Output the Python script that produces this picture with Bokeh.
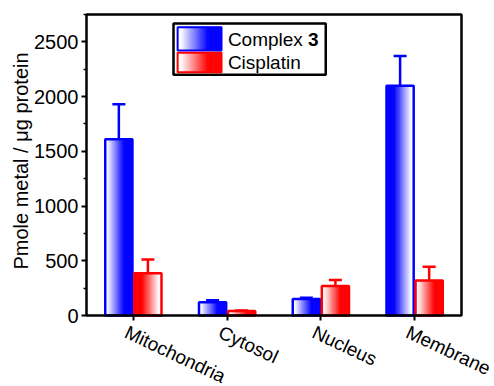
import numpy as np
from bokeh.plotting import figure
from bokeh.models import FixedTicker, Range1d, Whisker, ColumnDataSource
from bokeh.core.properties import value
from bokeh.embed import file_html
from bokeh.resources import INLINE

# ---- data ----
categories = ["Mitochondria", "Cytosol", "Nucleus", "Membrane"]
complex3 = [1610, 122, 150, 2100]
complex3_err = [320, 18, 12, 270]
cisplatin = [387, 40, 270, 320]
cisplatin_err = [125, 6, 55, 125]
y_ticks = [0, 500, 1000, 1500, 2000, 2500]
y_title = "Pmole metal / \u03bcg protein"

# ---- style / layout ----
BLUE = (0, 0, 255)
RED = (255, 0, 0)
blue_dir = [1, 1, 1, -1]   # 1: white->colour left to right
red_dir = [-1, 1, 1, 1]
bar_w = 0.29
off = 0.155
FONT = "Liberation Sans"
FS = "19px"
FS_AX = "20px"
W, H = 494, 386
BOX_L, BOX_R, BOX_T, BOX_B = 86, 461, 14, 315   # pixel box of the axes
XLO, XHI, YLO, YHI = 0.5, 4.5, 0, 2750

xs_per_px = (XHI - XLO) / (BOX_R - BOX_L)
ys_per_px = (YHI - YLO) / (BOX_B - BOX_T)
x_range = Range1d(XLO - BOX_L * xs_per_px, XHI + (W - BOX_R) * xs_per_px)
y_range = Range1d(YLO - (H - BOX_B) * ys_per_px, YHI + BOX_T * ys_per_px)

p = figure(width=W, height=H, output_backend="svg", toolbar_location=None,
           x_range=x_range, y_range=y_range,
           min_border_left=0, min_border_right=0, min_border_top=0, min_border_bottom=0)
p.xgrid.visible = False
p.ygrid.visible = False
p.outline_line_color = None

def shade(col, f):
    return "#%02x%02x%02x" % tuple(int(round(255 + (c - 255) * f)) for c in col)

def ramp(t):
    return float(np.clip((t - 0.08) / 0.62, 0, 1))

N = 24
def gradient_bars(xs, ys, col, dirs):
    l, r, t, b, c = [], [], [], [], []
    for x, y, d in zip(xs, ys, dirs):
        edges = np.linspace(x - bar_w / 2, x + bar_w / 2, N + 1)
        for i in range(N):
            tt = (i + 0.5) / N
            if d < 0:
                tt = 1 - tt
            l.append(edges[i]); r.append(edges[i + 1]); t.append(y); b.append(0)
            c.append(shade(col, ramp(tt)))
    p.quad(left=l, right=r, top=t, bottom=b, fill_color=c, line_color=c, line_width=0.8)
    p.quad(left=[x - bar_w / 2 for x in xs], right=[x + bar_w / 2 for x in xs],
           top=ys, bottom=[0] * len(ys), fill_color=None,
           line_color=shade(col, 1), line_width=2.5)

xpos = np.arange(1, len(categories) + 1)
xb = list(xpos - off)
xr = list(xpos + off)

for xs, vals, errs, col, dirs in [(xb, complex3, complex3_err, BLUE, blue_dir),
                                  (xr, cisplatin, cisplatin_err, RED, red_dir)]:
    hexc = shade(col, 1)
    src = ColumnDataSource(dict(x=xs, lo=vals, hi=[v + e for v, e in zip(vals, errs)]))
    w = Whisker(base="x", lower="lo", upper="hi", source=src, line_color=hexc, line_width=2.5,
                lower_head=None)
    w.upper_head.size = 13
    w.upper_head.line_color = hexc
    w.upper_head.line_width = 2.5
    p.add_layout(w)
    gradient_bars(xs, vals, col, dirs)

# axes box
p.quad(left=[XLO], right=[XHI], bottom=[YLO], top=[YHI], fill_color=None,
       line_color="black", line_width=2.5)

for ax in (p.xaxis[0], p.yaxis[0]):
    ax.axis_line_color = None
    ax.major_tick_line_width = 2
    ax.minor_tick_line_width = 1.5
    ax.major_tick_in = 0
    ax.major_tick_out = 5
    ax.minor_tick_in = 0
    ax.minor_tick_out = 3
    ax.major_label_text_font = FONT
    ax.major_label_text_font_size = FS_AX
    ax.major_label_text_color = "black"

p.yaxis.ticker = FixedTicker(ticks=y_ticks, minor_ticks=[v + 250 for v in y_ticks])
p.yaxis.major_label_standoff = 3
p.yaxis.fixed_location = XLO

p.xaxis.ticker = FixedTicker(ticks=list(xpos), minor_ticks=[])
p.xaxis.major_label_text_color = None
p.xaxis.major_label_text_font_size = "1px"
p.xaxis.fixed_location = YLO

# y-axis title
p.text(x=[XLO], y=[(YLO + YHI) / 2], text=[y_title], angle=np.pi / 2, x_offset=-66,
       y_offset=-4, text_align="center", text_baseline="alphabetic", text_font=value(FONT),
       text_font_size=FS_AX, text_color="black")

# rotated category labels
p.text(x=list(xpos), y=[YLO] * len(xpos), text=categories, angle=-0.44,
       x_offset=-3, y_offset=6, text_align="left", text_baseline="top",
       text_font=value(FONT), text_font_size=FS, text_color="black")

# legend (manual, with gradient swatches)
def fx(fr):
    return XLO + (XHI - XLO) * fr
def fy(fr):
    return YHI * fr
p.quad(left=[fx(0.232)], right=[fx(0.638)], top=[fy(0.970)], bottom=[fy(0.800)],
       fill_color="white", line_color="black", line_width=2.5)
sw_l, sw_r = fx(0.243), fx(0.36)
for (top, bot), col in [((0.958, 0.880), BLUE), ((0.873, 0.808), RED)]:
    edges = np.linspace(sw_l, sw_r, N + 1)
    cols = [shade(col, ramp((i + 0.5) / N)) for i in range(N)]
    p.quad(left=edges[:-1], right=edges[1:], top=[fy(top)] * N, bottom=[fy(bot)] * N,
           fill_color=cols, line_color=cols, line_width=0.8)
    p.quad(left=[sw_l], right=[sw_r], top=[fy(top)], bottom=[fy(bot)], fill_color=None,
           line_color=shade(col, 1), line_width=2)
tx = fx(0.377)
p.text(x=[tx], y=[fy(0.918)], text=["Complex "], text_font=value(FONT), text_font_size=FS,
       text_baseline="middle", text_align="left", text_color="black")
p.text(x=[tx], y=[fy(0.918)], text=["3"], x_offset=80, text_font=value(FONT), text_font_size=FS,
       text_font_style="bold", text_baseline="middle", text_align="left", text_color="black")
p.text(x=[tx], y=[fy(0.840)], text=["Cisplatin"], text_font=value(FONT), text_font_size=FS,
       text_baseline="middle", text_align="left", text_color="black")

open("out.html", "w").write(file_html(p, INLINE))
